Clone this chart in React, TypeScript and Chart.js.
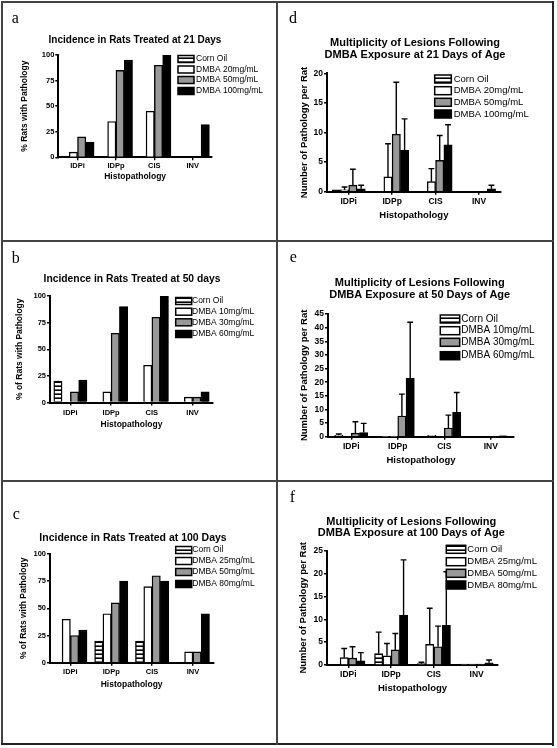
import { useEffect, useRef } from "react";
import { Chart, registerables } from "chart.js";

Chart.register(...registerables);
Chart.defaults.font.family = '"Liberation Sans", Arial, sans-serif';

const categories = ["IDPi", "IDPp", "CIS", "INV"];
const labels21 = ["Corn Oil", "DMBA 20mg/mL", "DMBA 50mg/mL", "DMBA 100mg/mL"];
const labels50 = ["Corn Oil", "DMBA 10mg/mL", "DMBA 30mg/mL", "DMBA 60mg/mL"];
const labels100 = ["Corn Oil", "DMBA 25mg/mL", "DMBA 50mg/mL", "DMBA 80mg/mL"];

// incidence (% of rats with pathology)
const inc21Corn = [0, 0, 0, 0];
const inc21Low = [5, 35, 45, 0];
const inc21Mid = [20, 85, 90, 0];
const inc21High = [15, 95, 100, 32];

const inc50Corn = [20, 0, 0, 0];
const inc50Low = [0, 10, 35, 5];
const inc50Mid = [10, 65, 80, 5];
const inc50High = [21, 90, 100, 10];

const inc100Corn = [0, 20, 20, 0];
const inc100Low = [40, 45, 70, 10];
const inc100Mid = [25, 55, 80, 10];
const inc100High = [30, 75, 75, 45];

// multiplicity (mean lesions per rat) and SD
const mul21Corn = [0.3, 0, 0, 0];
const mul21CornSd = [0, 0, 0, 0];
const mul21Low = [0.3, 2.5, 1.7, 0];
const mul21LowSd = [0.5, 5.6, 2.2, 0];
const mul21Mid = [1.1, 9.7, 5.3, 0];
const mul21MidSd = [2.7, 8.8, 4.2, 0];
const mul21High = [0.5, 7.0, 7.9, 0.5];
const mul21HighSd = [0.6, 5.3, 3.4, 0.6];

const mul50Corn = [0.5, 0.1, 0.5, 0];
const mul50CornSd = [0.5, 0, 0, 0];
const mul50Low = [0, 0.1, 0, 0];
const mul50LowSd = [0, 0, 0, 0];
const mul50Mid = [1.3, 7.6, 3.2, 0];
const mul50MidSd = [4.2, 8.0, 4.7, 0];
const mul50High = [1.5, 21.4, 8.9, 0.3];
const mul50HighSd = [3.4, 20.6, 7.3, 0];

const mul100Corn = [0, 2.5, 0.3, 0.2];
const mul100CornSd = [0, 4.7, 0.3, 0];
const mul100Low = [1.6, 2.0, 4.5, 0.2];
const mul100LowSd = [2.0, 2.7, 7.9, 0];
const mul100Mid = [1.5, 3.3, 4.0, 0.2];
const mul100MidSd = [2.5, 3.6, 4.5, 0];
const mul100High = [0.9, 10.9, 8.7, 0.5];
const mul100HighSd = [1.8, 12.1, 11.7, 0.6];

const FONT = '"Liberation Sans", Arial, sans-serif';

interface PanelSpec {
  letter: string;
  letterX: number;
  letterY: number;
  title: string[];
  titleX: number;
  titleY: number[];
  titleSize: number;
  left: number;
  top: number;
  width: number;
  height: number;
  area: { l: number; r: number; t: number; b: number };
  yMax: number;
  yStep: number;
  yTitle: string;
  yTitleX: number;
  xLabelOffset: number;
  xTitleY: number;
  axisFont: number;
  tickFont: number;
  legendX: number;
  legendRows: number[];
  boxW: number;
  boxH: number;
  legendTextX: number;
  legendFont: number;
  names: string[];
  series: number[][];
  errors?: number[][];
}

function stripes(): CanvasPattern | string {
  const c = document.createElement("canvas");
  c.width = 4;
  c.height = 4;
  const g = c.getContext("2d");
  if (!g) return "#fff";
  g.fillStyle = "#fff";
  g.fillRect(0, 0, 4, 4);
  g.fillStyle = "#000";
  g.fillRect(0, 2.4, 4, 1.6);
  return g.createPattern(c, "repeat") ?? "#fff";
}

const panels: PanelSpec[] = [
  {
    letter: "a", letterX: 8.7, letterY: 19.7,
    title: ["Incidence in Rats Treated at 21 Days"], titleX: 132, titleY: [37], titleSize: 10,
    left: 3, top: 3, width: 273, height: 237,
    area: { l: 55.3, r: 209, t: 52, b: 154.3 },
    yMax: 100, yStep: 25, yTitle: "% Rats with Pathology", yTitleX: 22,
    xLabelOffset: 8.6, xTitleY: 174, axisFont: 8.5, tickFont: 7.5,
    legendX: 175, legendRows: [56, 66.5, 77, 88], boxW: 16, boxH: 7, legendTextX: 193, legendFont: 8.5,
    names: labels21, series: [inc21Corn, inc21Low, inc21Mid, inc21High],
  },
  {
    letter: "b", letterX: 8.7, letterY: 19.7,
    title: ["Incidence in Rats Treated at 50 days"], titleX: 129, titleY: [36.3], titleSize: 10.3,
    left: 3, top: 243, width: 273, height: 237,
    area: { l: 47, r: 210, t: 53, b: 159.5 },
    yMax: 100, yStep: 25, yTitle: "% of Rats with Pathology", yTitleX: 17,
    xLabelOffset: 10.2, xTitleY: 181.3, axisFont: 8.5, tickFont: 7.5,
    legendX: 172.7, legendRows: [58, 68.7, 79.3, 91], boxW: 16, boxH: 7, legendTextX: 189, legendFont: 8.5,
    names: labels50, series: [inc50Corn, inc50Low, inc50Mid, inc50High],
  },
  {
    letter: "c", letterX: 9.7, letterY: 36.3,
    title: ["Incidence in Rats Treated at 100 Days"], titleX: 130, titleY: [55.3], titleSize: 10.5,
    left: 3, top: 483, width: 273, height: 260,
    area: { l: 47, r: 210.3, t: 71, b: 179.7 },
    yMax: 100, yStep: 25, yTitle: "% of Rats with Pathology", yTitleX: 21,
    xLabelOffset: 9.6, xTitleY: 202, axisFont: 8.5, tickFont: 7.5,
    legendX: 172.7, legendRows: [67, 78, 89, 101], boxW: 16, boxH: 7, legendTextX: 189.3, legendFont: 8.5,
    names: labels100, series: [inc100Corn, inc100Low, inc100Mid, inc100High],
  },
  {
    letter: "d", letterX: 10, letterY: 19.7,
    title: ["Multiplicity of Lesions Following", "DMBA Exposure at 21 Days of Age"], titleX: 136, titleY: [39.7, 52], titleSize: 11,
    left: 279, top: 3, width: 273, height: 237,
    area: { l: 48, r: 221.7, t: 70.3, b: 188.7 },
    yMax: 20, yStep: 5, yTitle: "Number of Pathology per Rat", yTitleX: 25.7,
    xLabelOffset: 10, xTitleY: 212, axisFont: 9.5, tickFont: 8.5,
    legendX: 155.7, legendRows: [76, 87.7, 99.3, 111], boxW: 16.6, boxH: 8, legendTextX: 174.7, legendFont: 9.5,
    names: labels21, series: [mul21Corn, mul21Low, mul21Mid, mul21High],
    errors: [mul21CornSd, mul21LowSd, mul21MidSd, mul21HighSd],
  },
  {
    letter: "e", letterX: 10.7, letterY: 19,
    title: ["Multiplicity of Lesions Following", "DMBA Exposure at 50 Days of Age"], titleX: 140.7, titleY: [39.7, 52], titleSize: 11,
    left: 279, top: 243, width: 273, height: 237,
    area: { l: 49, r: 235, t: 71, b: 193.7 },
    yMax: 45, yStep: 5, yTitle: "Number of Pathology per Rat", yTitleX: 25.7,
    xLabelOffset: 10, xTitleY: 217, axisFont: 9.5, tickFont: 8.5,
    legendX: 161.3, legendRows: [76, 87.7, 99.3, 112.7], boxW: 19.4, boxH: 8, legendTextX: 182.3, legendFont: 10,
    names: labels50, series: [mul50Corn, mul50Low, mul50Mid, mul50High],
    errors: [mul50CornSd, mul50LowSd, mul50MidSd, mul50HighSd],
  },
  {
    letter: "f", letterX: 10.7, letterY: 18.7,
    title: ["Multiplicity of Lesions Following", "DMBA Exposure at 100 Days of Age"], titleX: 132.3, titleY: [38.7, 50.3], titleSize: 11,
    left: 279, top: 483, width: 273, height: 260,
    area: { l: 48, r: 219, t: 67.7, b: 182 },
    yMax: 25, yStep: 5, yTitle: "Number of Pathology per Rat", yTitleX: 24,
    xLabelOffset: 9.3, xTitleY: 205.3, axisFont: 9.5, tickFont: 8.5,
    legendX: 167.3, legendRows: [66.3, 78.7, 90.3, 102], boxW: 19.4, boxH: 8, legendTextX: 188.3, legendFont: 9.5,
    names: labels100, series: [mul100Corn, mul100Low, mul100Mid, mul100High],
    errors: [mul100CornSd, mul100LowSd, mul100MidSd, mul100HighSd],
  },
];

const Panel = ({ spec }: { spec: PanelSpec }) => {
  const canvasRef = useRef<HTMLCanvasElement | null>(null);

  useEffect(() => {
    if (!canvasRef.current) return;
    const fills = [stripes(), "#ffffff", "#999999", "#000000"];
    const { area, width, height } = spec;
    const tickLen = 3;

    const decor = {
      id: "decor",
      afterDatasetsDraw(chart: Chart) {
        if (!spec.errors) return;
        const ctx = chart.ctx;
        const y = chart.scales.y;
        ctx.save();
        ctx.strokeStyle = "#000";
        ctx.lineWidth = 1.4;
        spec.errors.forEach((errs, di) => {
          const meta = chart.getDatasetMeta(di);
          errs.forEach((sd, i) => {
            if (!sd) return;
            const bar = meta.data[i] as any;
            const top = y.getPixelForValue(spec.series[di][i] + sd);
            const half = bar.width * 0.35;
            ctx.beginPath();
            ctx.moveTo(bar.x, bar.y);
            ctx.lineTo(bar.x, top);
            ctx.moveTo(bar.x - half, top);
            ctx.lineTo(bar.x + half, top);
            ctx.stroke();
          });
        });
        ctx.restore();
      },
      afterDraw(chart: Chart) {
        const ctx = chart.ctx;
        ctx.save();
        ctx.fillStyle = "#000";
        ctx.font = '16px "Liberation Serif", "Times New Roman", serif';
        ctx.textAlign = "left";
        ctx.textBaseline = "alphabetic";
        ctx.fillText(spec.letter, spec.letterX, spec.letterY);

        ctx.font = `bold ${spec.titleSize}px ${FONT}`;
        ctx.textAlign = "center";
        ctx.textBaseline = "middle";
        spec.title.forEach((line, i) => ctx.fillText(line, spec.titleX, spec.titleY[i]));

        ctx.font = `${spec.legendFont}px ${FONT}`;
        ctx.textAlign = "left";
        ctx.lineWidth = 1.5;
        ctx.strokeStyle = "#000";
        spec.names.forEach((name, i) => {
          const cy = spec.legendRows[i];
          ctx.fillStyle = fills[i] as any;
          ctx.fillRect(spec.legendX, cy - spec.boxH / 2, spec.boxW, spec.boxH);
          ctx.strokeRect(spec.legendX, cy - spec.boxH / 2, spec.boxW, spec.boxH);
          ctx.fillStyle = "#000";
          ctx.fillText(name, spec.legendTextX, cy);
        });
        ctx.restore();
      },
    };

    const chart = new Chart(canvasRef.current, {
      type: "bar",
      data: {
        labels: categories,
        datasets: spec.series.map((data, i) => ({
          label: spec.names[i],
          data,
          backgroundColor: fills[i] as any,
          borderColor: "#000",
          borderWidth: 1.4,
          barThickness: 8.3,
        })),
      },
      options: {
        responsive: false,
        animation: false,
        layout: { padding: { left: 0, top: area.t, right: width - area.r, bottom: 0 } },
        plugins: {
          legend: { display: false },
          title: { display: false },
          tooltip: { enabled: false },
        },
        scales: {
          x: {
            grid: { offset: false, drawOnChartArea: false, drawTicks: true, tickLength: tickLen, color: "#000", lineWidth: 1.4 },
            border: { display: true, color: "#000", width: 2 },
            ticks: {
              color: "#000",
              autoSkip: false,
              maxRotation: 0,
              font: { size: spec.tickFont, weight: "bold" },
              padding: spec.xLabelOffset - tickLen - (spec.tickFont * 1.2) / 2,
            },
            title: {
              display: true,
              text: "Histopathology",
              color: "#000",
              font: { size: spec.axisFont, weight: "bold" },
              padding: { top: 0, bottom: height - spec.xTitleY - (spec.axisFont * 1.2) / 2 },
            },
            afterFit: (s: any) => {
              s.height = height - area.b;
            },
          },
          y: {
            min: 0,
            max: spec.yMax,
            grid: { drawOnChartArea: false, drawTicks: true, tickLength: tickLen, color: "#000", lineWidth: 1.4 },
            border: { display: true, color: "#000", width: 2 },
            ticks: {
              stepSize: spec.yStep,
              color: "#000",
              padding: 1,
              font: { size: spec.tickFont, weight: "bold" },
            },
            title: {
              display: true,
              text: spec.yTitle,
              color: "#000",
              font: { size: spec.axisFont, weight: "bold" },
              padding: { top: spec.yTitleX - (spec.axisFont * 1.2) / 2, bottom: 0 },
            },
            afterFit: (s: any) => {
              s.width = area.l;
            },
          },
        },
      },
      plugins: [decor],
    } as any);

    return () => {
      chart.destroy();
    };
  }, [spec]);

  return (
    <canvas
      ref={canvasRef}
      width={spec.width}
      height={spec.height}
      style={{ position: "absolute", left: spec.left, top: spec.top, width: spec.width, height: spec.height }}
    />
  );
};

const line = (left: number, top: number, width: number, height: number, color = "#444") => (
  <div style={{ position: "absolute", left, top, width, height, background: color }} />
);

export default function App() {
  return (
    <div style={{ position: "absolute", left: 0, top: 0, width: 557, height: 748, background: "#fff" }}>
      {line(1, 1, 2, 744)}
      {line(1, 1, 553, 2)}
      {line(552, 1, 2, 745, "#222")}
      {line(1, 743, 553, 2, "#222")}
      {line(276, 1, 2, 744)}
      {line(1, 240, 553, 2)}
      {line(1, 480, 553, 2)}
      {panels.map((p) => (
        <Panel key={p.letter} spec={p} />
      ))}
    </div>
  );
}
